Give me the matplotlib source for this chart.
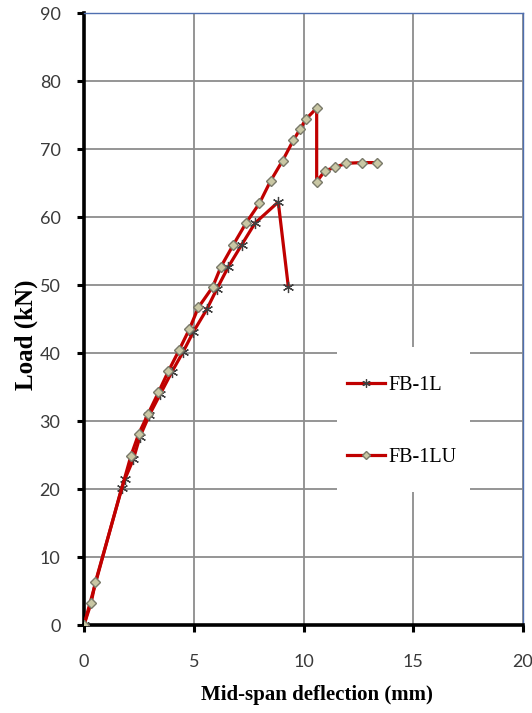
import numpy as np
import matplotlib
matplotlib.use("Agg")
import matplotlib.pyplot as plt
from matplotlib.patches import Rectangle

# FB-1L (asterisk markers)
fb1l_x = [0, 1.72, 1.87, 2.25, 2.55, 2.98, 3.48, 4.00, 4.52, 4.98, 5.59, 6.05,
          6.58, 7.18, 7.79, 8.85, 9.31]
fb1l_y = [0, 20.2, 21.5, 24.4, 27.7, 30.9, 34.0, 37.2, 40.2, 43.1, 46.4, 49.4,
          52.7, 55.9, 59.1, 62.2, 49.7]

# FB-1LU (diamond markers)
fb1lu_x = [0, 0.32, 0.52, 2.14, 2.49, 2.93, 3.39, 3.84, 4.33, 4.80, 5.21, 5.86,
           6.24, 6.80, 7.38, 7.99, 8.50, 9.05, 9.54, 9.84, 10.11, 10.60, 10.60,
           10.98, 11.43, 11.94, 12.65, 13.36]
fb1lu_y = [0, 3.2, 6.3, 24.9, 28.1, 31.1, 34.2, 37.3, 40.4, 43.5, 46.7, 49.7,
           52.7, 55.9, 59.1, 62.0, 65.3, 68.3, 71.3, 72.9, 74.4, 76.0, 65.2,
           66.8, 67.3, 67.9, 68.0, 68.0]

xticks = [0, 5, 10, 15, 20]
yticks = list(range(0, 91, 10))

red = '#c00000'

fig = plt.figure(figsize=(5.32, 7.13), dpi=100)
ax = fig.add_axes([84/532, 88/713, 439/532, 612/713])

ax.plot(fb1l_x, fb1l_y, color=red, lw=2.3, marker=(6, 2, 0), ms=8,
        mec='#404040', mew=0.9, label='FB-1L', zorder=3)
ax.plot(fb1lu_x, fb1lu_y, color=red, lw=2.3, marker='D', ms=5.5,
        mfc='#c9c7a4', mec='#7a7a6a', mew=1.0, label='FB-1LU', zorder=4)

ax.set_xlim(0, 20)
ax.set_ylim(0, 90)
ax.set_xticks(xticks)
ax.set_yticks(yticks)
ax.grid(True, color='#8c8c8c', lw=1.3)
ax.set_axisbelow(True)

for s in ['left', 'bottom']:
    ax.spines[s].set_linewidth(2.6)
    ax.spines[s].set_color('black')
for s in ['top', 'right']:
    ax.spines[s].set_linewidth(1.0)
    ax.spines[s].set_color('#4f6fb0')

ax.tick_params(axis='both', direction='out', length=5, width=2.2, color='black',
               labelsize=13, labelcolor='#3a3a3a')
ax.tick_params(axis='x', pad=16)
ax.tick_params(axis='y', pad=12)
for lbl in ax.get_xticklabels() + ax.get_yticklabels():
    lbl.set_family('Lato')

ax.set_xlabel('Mid-span deflection (mm)', family='Liberation Serif',
              fontweight='bold', fontsize=15, labelpad=12)
ax.xaxis.set_label_coords(0.53, -0.098)
ax.set_ylabel('Load (kN)', family='Liberation Serif', fontweight='bold',
              fontsize=18, labelpad=10)
ax.yaxis.set_label_coords(-0.105, 0.474)

# white legend area over the grid
ax.add_patch(Rectangle((337/532, (713-492)/713), 133/532, 145/713,
                       transform=fig.transFigure, facecolor='white',
                       edgecolor='none', zorder=1))

leg = ax.legend(loc='upper left', bbox_to_anchor=(337/532, (713-366)/713),
                bbox_transform=fig.transFigure, frameon=False,
                prop={'family': 'Liberation Serif', 'size': 14.5},
                labelspacing=2.6, handlelength=1.9, handletextpad=0.15,
                borderpad=0.5, borderaxespad=0, markerscale=0.75)

fig.savefig('out.png', dpi=100)
